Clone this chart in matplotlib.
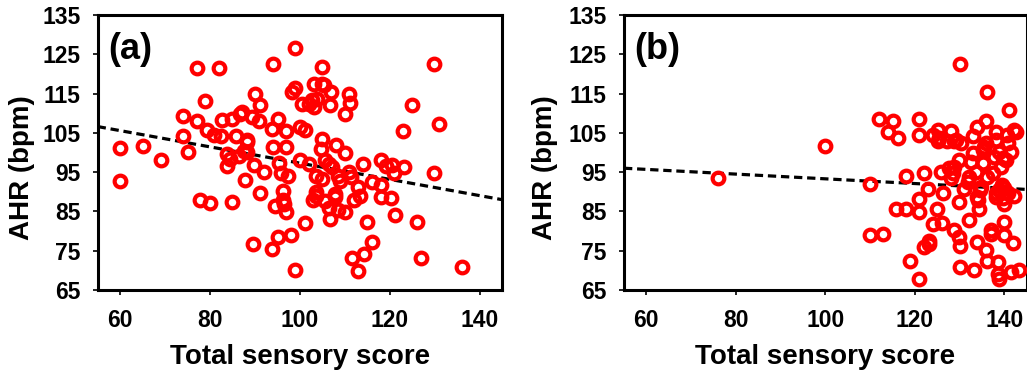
import matplotlib.pyplot as plt
import numpy as np

OUT_FILE = 'out.png'

# Panel (a): total sensory score vs AHR
SCORE_A = [
    60, 60, 65.1, 69.1, 74.0, 74.0, 75.1, 77.1, 81.9, 77.1,
    79.0, 79.3, 77.8, 80.1, 80.8, 82.4, 82.7, 83.8, 83.8, 85.0,
    84.9, 85.9, 86.7, 84.5, 86.4, 88.2, 88.2, 87.9, 89.5, 90.1,
    91.1, 89.3, 90.8, 89.9, 91.1, 92.0, 94.0, 93.8, 94.0, 95.1,
    95.3, 95.9, 96.9, 97.0, 97.3, 96.2, 96.2, 94.5, 96.9, 93.9,
    95.1, 98.1, 99.0, 98.3, 99.0, 100.1, 101.2, 100.0, 102.0, 99.0,
    101.2, 100.5, 102.0, 103.1, 103.1, 103.8, 104.9, 105.3, 107.0, 106.8,
    104.9, 104.7, 103.5, 103.7, 103.0, 104.9, 106.4, 107.2, 105.7, 106.8,
    107.9, 108.1, 110.1, 109.0, 108.6, 110.0, 110.0, 110.9, 111.1, 110.9,
    112.9, 112.0, 113.5, 111.6, 112.9, 114.2, 114.0, 115.0, 116.1, 116.1,
    118.0, 118.0, 118.0, 119.1, 120.2, 120.9, 121.1, 123.2, 123.0, 125.0,
    126.0, 127.0, 129.8, 130.9, 129.8, 136.0,
    87.1, 88.2, 87.5, 96.4, 104.9, 102.7, 105.7, 108.6, 111.3, 103.5,
    107.9, 106.4, 120.6,
]
AHR_A = [
    101.1, 92.7, 101.7, 98.2, 109.4, 104.3, 100.0, 121.5, 121.5, 108.0,
    113.0, 105.6, 88.0, 87.2, 104.4, 104.3, 108.2, 99.7, 96.5, 87.3,
    108.6, 104.3, 109.9, 98.4, 99.2, 102.6, 100.1, 93.1, 76.7, 115.0,
    112.2, 109.0, 107.9, 96.7, 89.6, 95.0, 122.6, 106.0, 101.4, 108.6,
    97.3, 94.8, 105.4, 101.5, 94.1, 90.3, 87.9, 86.4, 84.9, 75.4,
    78.4, 79.0, 126.7, 115.4, 116.4, 106.5, 105.8, 98.0, 97.1, 70.1,
    82.0, 112.4, 112.4, 117.5, 111.6, 113.7, 121.8, 117.1, 115.4, 112.2,
    103.5, 100.8, 94.1, 89.9, 87.9, 93.3, 97.1, 96.2, 87.7, 83.2,
    89.4, 101.8, 99.9, 92.8, 85.4, 84.9, 109.9, 115.0, 112.7, 95.0,
    91.1, 88.0, 89.0, 73.1, 69.8, 74.1, 97.1, 82.2, 77.1, 92.4,
    98.0, 91.7, 88.7, 96.5, 88.4, 94.7, 84.1, 96.2, 105.4, 112.2,
    82.4, 73.1, 122.6, 107.3, 94.8, 70.9,
    110.3, 103.1, 100.5, 86.9, 117.5, 113.3, 98.0, 94.1, 93.7, 89.0,
    88.6, 86.0, 96.8,
]

# Panel (b)
SCORE_B = [
    76.0, 100.0, 110.1, 110.1, 113.0, 111.9, 115.1, 114.0, 116.2, 118.0,
    115.9, 118.0, 119.0, 121.0, 121.0, 122.1, 122.9, 120.9, 120.9, 121.0,
    122.1, 123.2, 124.1, 124.9, 126.1, 126.4, 124.0, 125.1, 125.1, 125.9,
    128.1, 127.3, 128.8, 130.3, 130.2, 127.7, 128.1, 129.9, 129.9, 128.8,
    129.9, 130.2, 130.2, 131.1, 132.2, 133.2, 133.0, 133.0, 133.7, 134.0,
    134.0, 133.9, 134.4, 136.1, 135.9, 135.5, 136.1, 135.9, 136.1, 137.0,
    137.0, 138.1, 137.8, 138.1, 138.5, 138.9, 139.4, 140.0, 140.0, 141.0,
    140.7, 142.2, 141.5, 142.0, 142.2, 141.5, 143.3, 140.0, 139.2, 140.3,
    134.8, 131.8,
    125.5, 129.2, 128.8, 123.2, 142.7, 136.0, 138.2, 140.8, 135.2, 138.9,
    132.6, 135.2, 139.7, 128.5, 132.2, 137.5, 134.5, 138.9, 140.0, 140.8,
    139.5, 140.3, 138.2, 139.7, 134.1, 138.6,
]
AHR_B = [
    93.4, 101.7, 92.0, 78.9, 79.3, 108.5, 107.9, 105.2, 103.8, 94.0,
    85.5, 85.5, 72.3, 108.5, 104.5, 94.8, 90.8, 88.1, 84.8, 67.8,
    75.9, 77.4, 81.9, 85.7, 82.1, 89.7, 104.5, 105.6, 102.8, 95.1,
    105.5, 102.8, 102.8, 102.3, 122.4, 96.0, 93.4, 98.1, 87.4, 80.2,
    78.5, 76.3, 70.8, 90.8, 82.9, 70.0, 104.1, 99.8, 95.1, 106.6,
    77.2, 88.7, 85.5, 115.3, 107.9, 101.5, 93.8, 75.1, 72.5, 80.2,
    79.3, 105.3, 98.9, 89.6, 72.1, 67.8, 91.7, 82.3, 78.9, 110.9,
    104.5, 105.8, 100.2, 77.0, 88.9, 69.5, 70.1, 87.0, 96.4, 98.1,
    91.3, 92.5,
    103.6, 103.2, 96.4, 76.8, 105.3, 102.4, 103.2, 102.4, 100.7, 100.2,
    97.7, 97.3, 98.5, 94.7, 93.8, 94.7, 90.4, 90.4, 90.9, 89.6,
    91.5, 90.0, 88.7, 88.3, 87.9, 69.1,
]

# Fitted trend lines as (slope, intercept)
TREND_A = (-0.2067, 117.97)
TREND_B = (-0.060, 99.30)

PANELS = ['(a)', '(b)']
X_TICKS = [60, 80, 100, 120, 140]
Y_TICKS = [65, 75, 85, 95, 105, 115, 125, 135]
X_LABEL = 'Total sensory score'
Y_LABEL = 'AHR (bpm)'

plt.rcParams['font.family'] = ['Liberation Sans', 'DejaVu Sans']
plt.rcParams['font.weight'] = 'bold'


def draw_panel(ax, score, ahr, trend, tag, ylabel_x):
    xs = np.array([55, 145])
    slope, intercept = trend
    ax.plot(xs, slope * xs + intercept, color='black', lw=2.3,
            linestyle=(0, (2.6, 1.5)), zorder=2)
    ax.plot(score, ahr, 'o', linestyle='none', ms=8.4, mew=3.0,
            mec='#ff0000', mfc='none', zorder=3)

    ax.set_xlim(55, 145)
    ax.set_ylim(65, 135)
    ax.set_xticks(X_TICKS)
    ax.set_yticks(Y_TICKS)
    ax.tick_params(axis='both', direction='out', length=3.5, width=1.2,
                   labelsize=16.5)
    ax.tick_params(axis='x', pad=10)
    ax.tick_params(axis='y', pad=9)
    for lab in ax.get_xticklabels() + ax.get_yticklabels():
        lab.set_fontweight('bold')
    for spine in ax.spines.values():
        spine.set_linewidth(2.2)

    ax.set_xlabel(X_LABEL, fontsize=20, fontweight='bold', labelpad=9)
    ax.set_ylabel(Y_LABEL, fontsize=20, fontweight='bold')
    # label anchor is its (rotated) baseline side, in axes coordinates
    ax.yaxis.set_label_coords(ylabel_x, 0.445)
    ax.text(0.026, 0.875, tag, transform=ax.transAxes, fontsize=26,
            fontweight='bold', ha='left', va='center')


def main():
    fig = plt.figure(figsize=(10.27, 3.71), dpi=100)
    ax_a = fig.add_axes([0.0951, 0.2183, 0.3937, 0.7413])
    ax_b = fig.add_axes([0.6076, 0.2183, 0.3920, 0.7413])

    draw_panel(ax_a, SCORE_A, AHR_A, TREND_A, PANELS[0], -0.155)
    draw_panel(ax_b, SCORE_B, AHR_B, TREND_B, PANELS[1], -0.163)

    fig.savefig(OUT_FILE, dpi=100)
    plt.close(fig)


if __name__ == '__main__':
    main()
